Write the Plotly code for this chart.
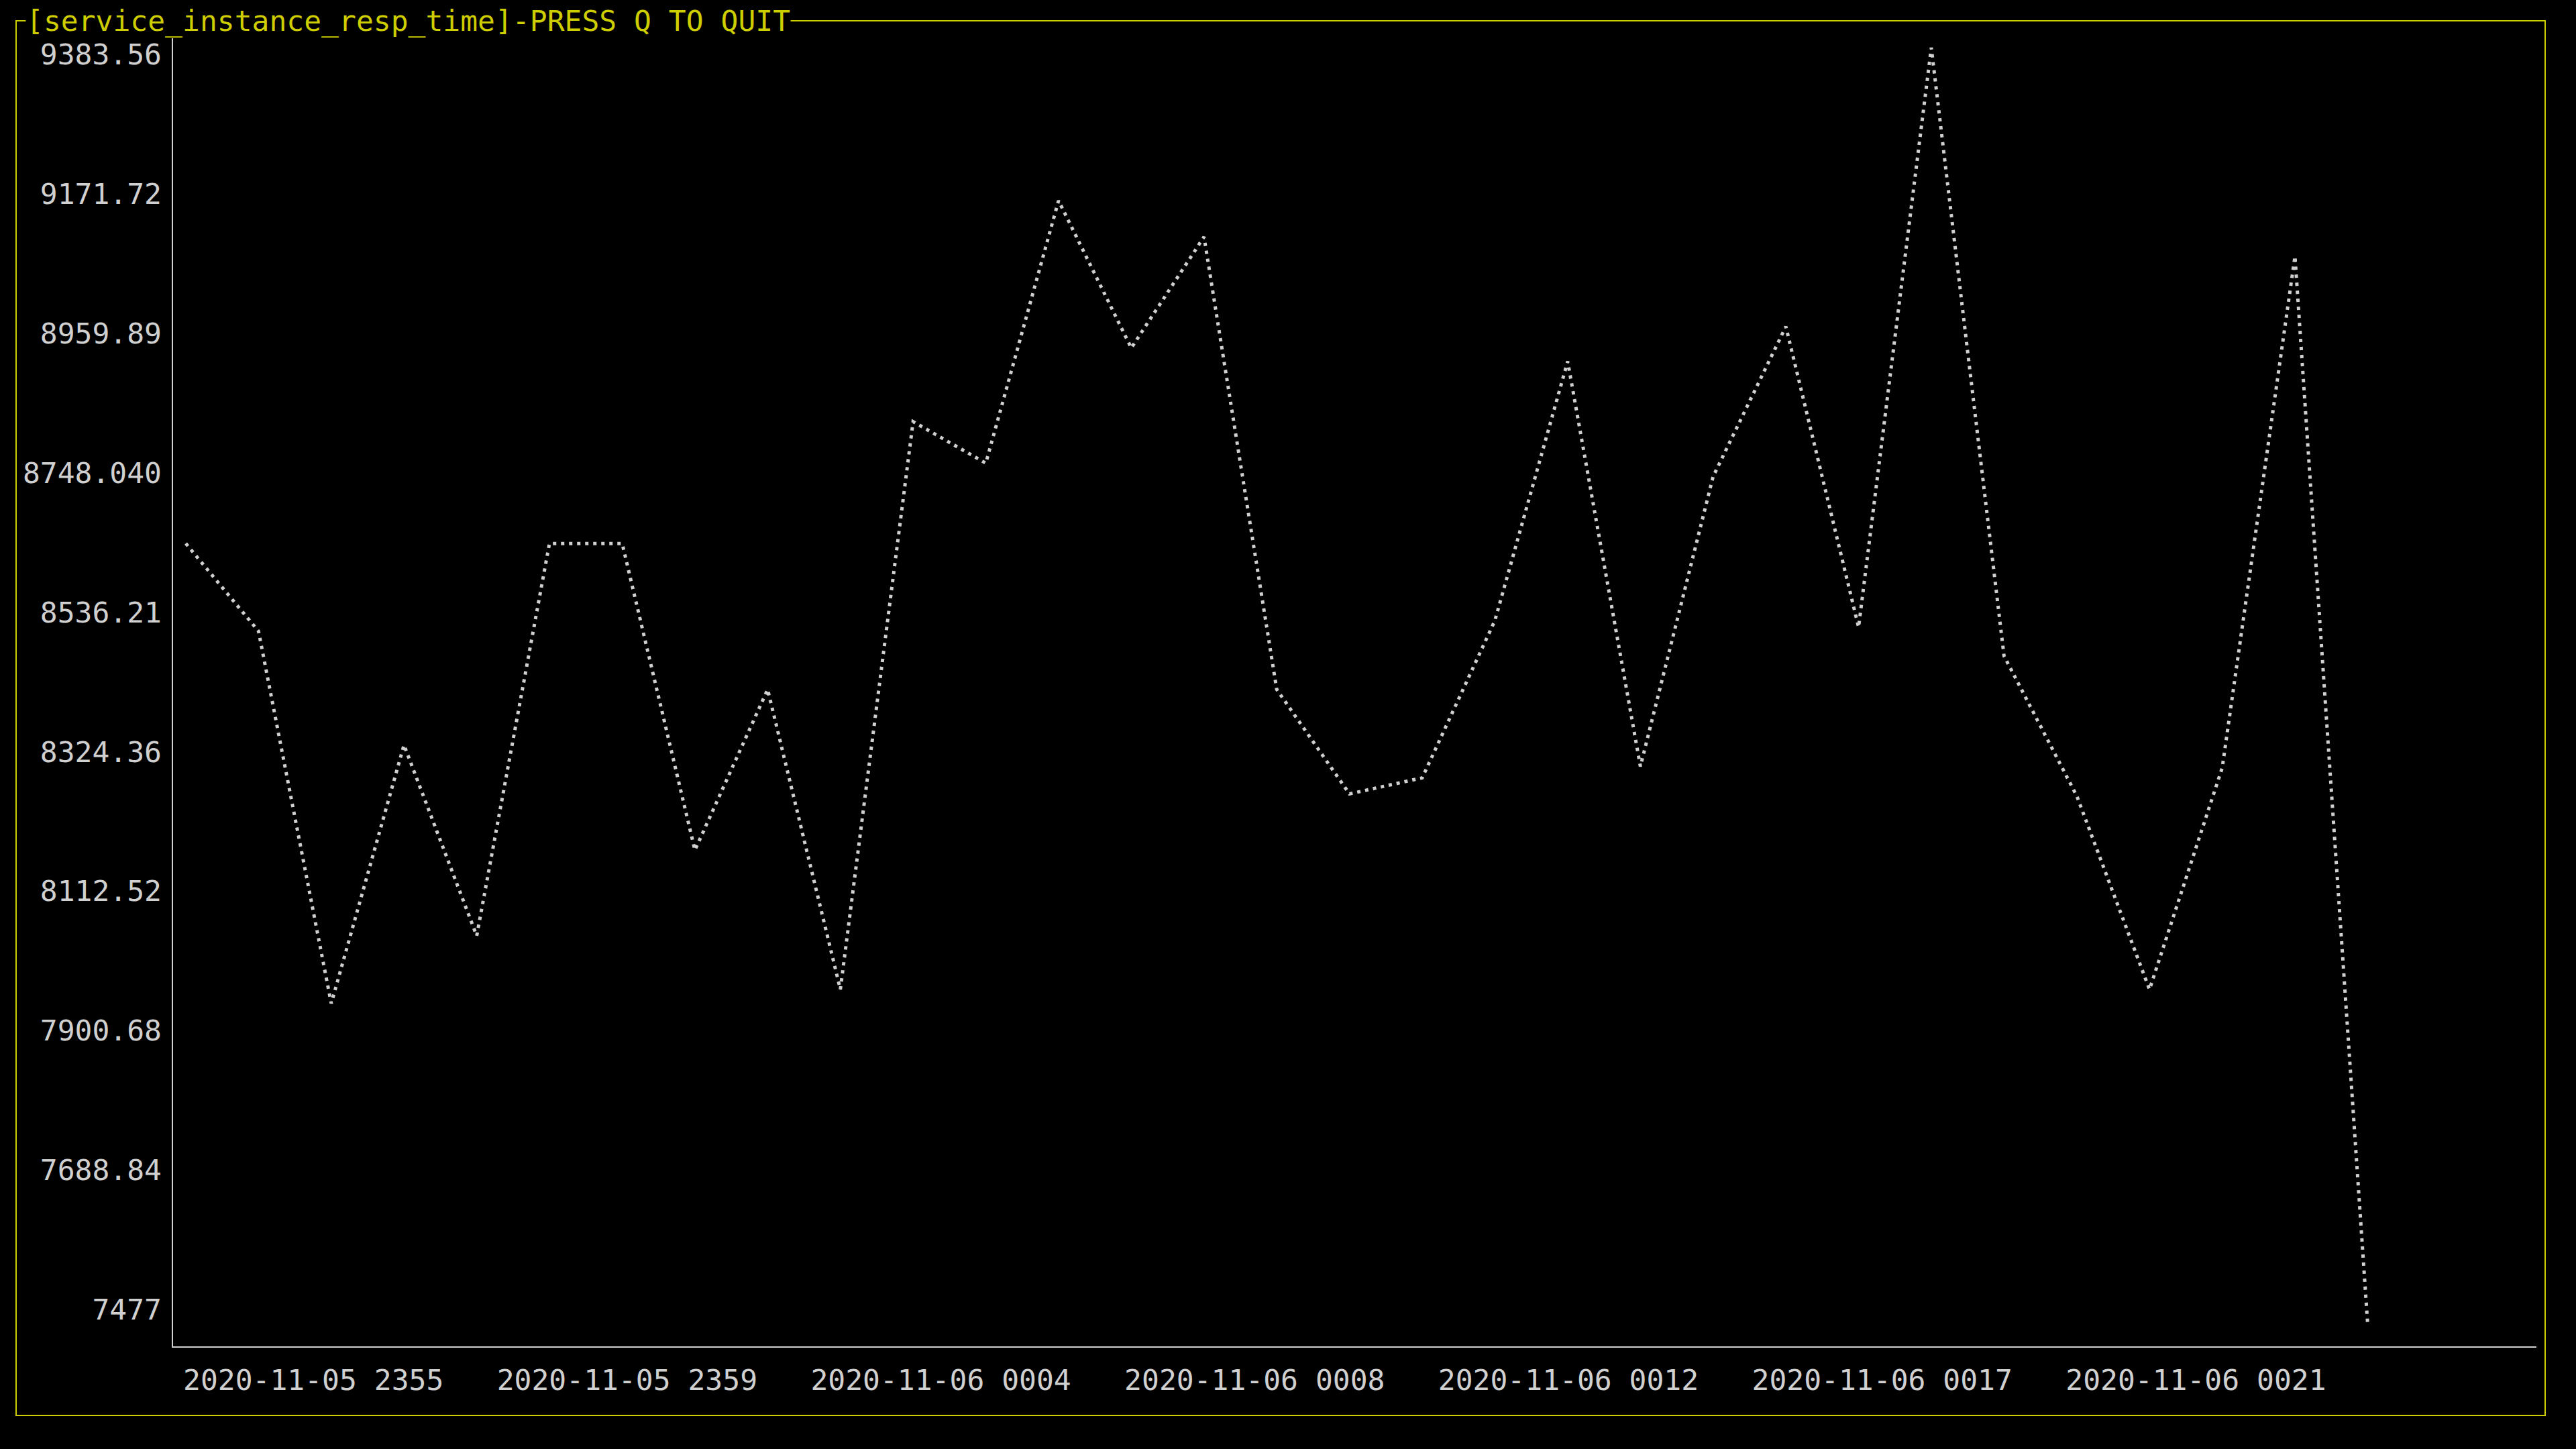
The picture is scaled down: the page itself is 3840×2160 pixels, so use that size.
import plotly.graph_objects as go

# ---- data (per-minute samples) ----
times = [
    "2020-11-05 2355", "2020-11-05 2356", "2020-11-05 2357", "2020-11-05 2358", "2020-11-05 2359",
    "2020-11-06 0000", "2020-11-06 0001", "2020-11-06 0002", "2020-11-06 0003", "2020-11-06 0004",
    "2020-11-06 0005", "2020-11-06 0006", "2020-11-06 0007", "2020-11-06 0008", "2020-11-06 0009",
    "2020-11-06 0010", "2020-11-06 0011", "2020-11-06 0012", "2020-11-06 0013", "2020-11-06 0014",
    "2020-11-06 0015", "2020-11-06 0016", "2020-11-06 0017", "2020-11-06 0018", "2020-11-06 0019",
    "2020-11-06 0020", "2020-11-06 0021", "2020-11-06 0022", "2020-11-06 0023", "2020-11-06 0024",
    "2020-11-06 0025",
]
resp_time = [
    8643, 8512, 7956, 8342, 8057, 8643, 8643, 8185, 8425, 7977,
    8825, 8763, 9155, 8935, 9101, 8425, 8269, 8293, 8528, 8915,
    8310, 8743, 8967, 8518, 9383.56, 8475, 8266, 7977, 8308, 9072,
    7477,
]
y_tick_labels = ["9383.56", "9171.72", "8959.89", "8748.040", "8536.21",
                 "8324.36", "8112.52", "7900.68", "7688.84", "7477"]
x_tick_labels = ["2020-11-05 2355", "2020-11-05 2359", "2020-11-06 0004",
                 "2020-11-06 0008", "2020-11-06 0012", "2020-11-06 0017",
                 "2020-11-06 0021"]
title_text = "[service_instance_resp_time]-PRESS Q TO QUIT"

# ---- style / layout constants ----
W, H = 3840, 2160
ML, MR, MT, MB = 258, 3840 - 3781, 57, 2160 - 2007
PW, PH = W - ML - MR, H - MT - MB
GRAY = "#d0d0d0"
YELLOW = "#cdcd00"
FONT = "DejaVu Sans Mono"
FS = 43
LABEL_STEP = 4.314      # label spacing in sample units
LABEL_OFFSET = -0.046   # first label offset in sample units


def px_x(p):
    return (p - ML) / PW


def px_y(p):
    return (H - MB - p) / PH


x_idx = list(range(len(resp_time)))
x_tickvals = [LABEL_OFFSET + LABEL_STEP * k for k in range(len(x_tick_labels))]
y_tickvals = [float(t) for t in y_tick_labels]

fig = go.Figure()
fig.add_trace(go.Scatter(
    x=x_idx, y=resp_time, mode="lines",
    line=dict(color=GRAY, width=5, dash="5px,7px"),
    text=times, hoverinfo="text+y", cliponaxis=False,
))
# invisible trace to carry the label axis
fig.add_trace(go.Scatter(
    x=[0] * len(y_tickvals), y=y_tickvals, yaxis="y2", mode="markers",
    marker=dict(opacity=0), hoverinfo="skip",
))

fig.update_layout(
    width=W, height=H,
    paper_bgcolor="black", plot_bgcolor="black",
    margin=dict(l=ML, r=MR, t=MT, b=MB, pad=0, autoexpand=False),
    showlegend=False,
    font=dict(family=FONT, size=FS, color=GRAY),
    xaxis=dict(
        range=[-0.175, 32.32], tickvals=x_tickvals, ticktext=x_tick_labels,
        ticklabelposition="outside right", ticks="", ticklabelstandoff=11,
        showline=True, linecolor=GRAY, linewidth=2,
        showgrid=False, zeroline=False, tickfont=dict(family=FONT, size=FS, color=GRAY),
    ),
    yaxis=dict(
        range=[7443.9, 9397.6], showticklabels=False, ticks="",
        showline=True, linecolor=GRAY, linewidth=2,
        showgrid=False, zeroline=False,
    ),
    yaxis2=dict(
        overlaying="y", side="left", range=[7421.0, 9408.0],
        tickvals=y_tickvals, ticktext=y_tick_labels, ticks="",
        ticklabelstandoff=16, showline=False, showgrid=False, zeroline=False,
        tickfont=dict(family=FONT, size=FS, color=GRAY),
    ),
    shapes=[dict(
        type="rect", xref="paper", yref="paper",
        x0=px_x(24), x1=px_x(3794), y0=px_y(2110), y1=px_y(31),
        line=dict(color=YELLOW, width=2), fillcolor="rgba(0,0,0,0)", layer="below",
    )],
    annotations=[dict(
        xref="paper", yref="paper", x=px_x(38), y=px_y(31),
        xanchor="left", yanchor="middle", showarrow=False,
        text=title_text, bgcolor="black", borderpad=0,
        font=dict(family=FONT, size=FS, color=YELLOW),
    )],
)

fig.write_html("out.html", post_script="document.body.style.margin='0';document.body.style.background='black';")
